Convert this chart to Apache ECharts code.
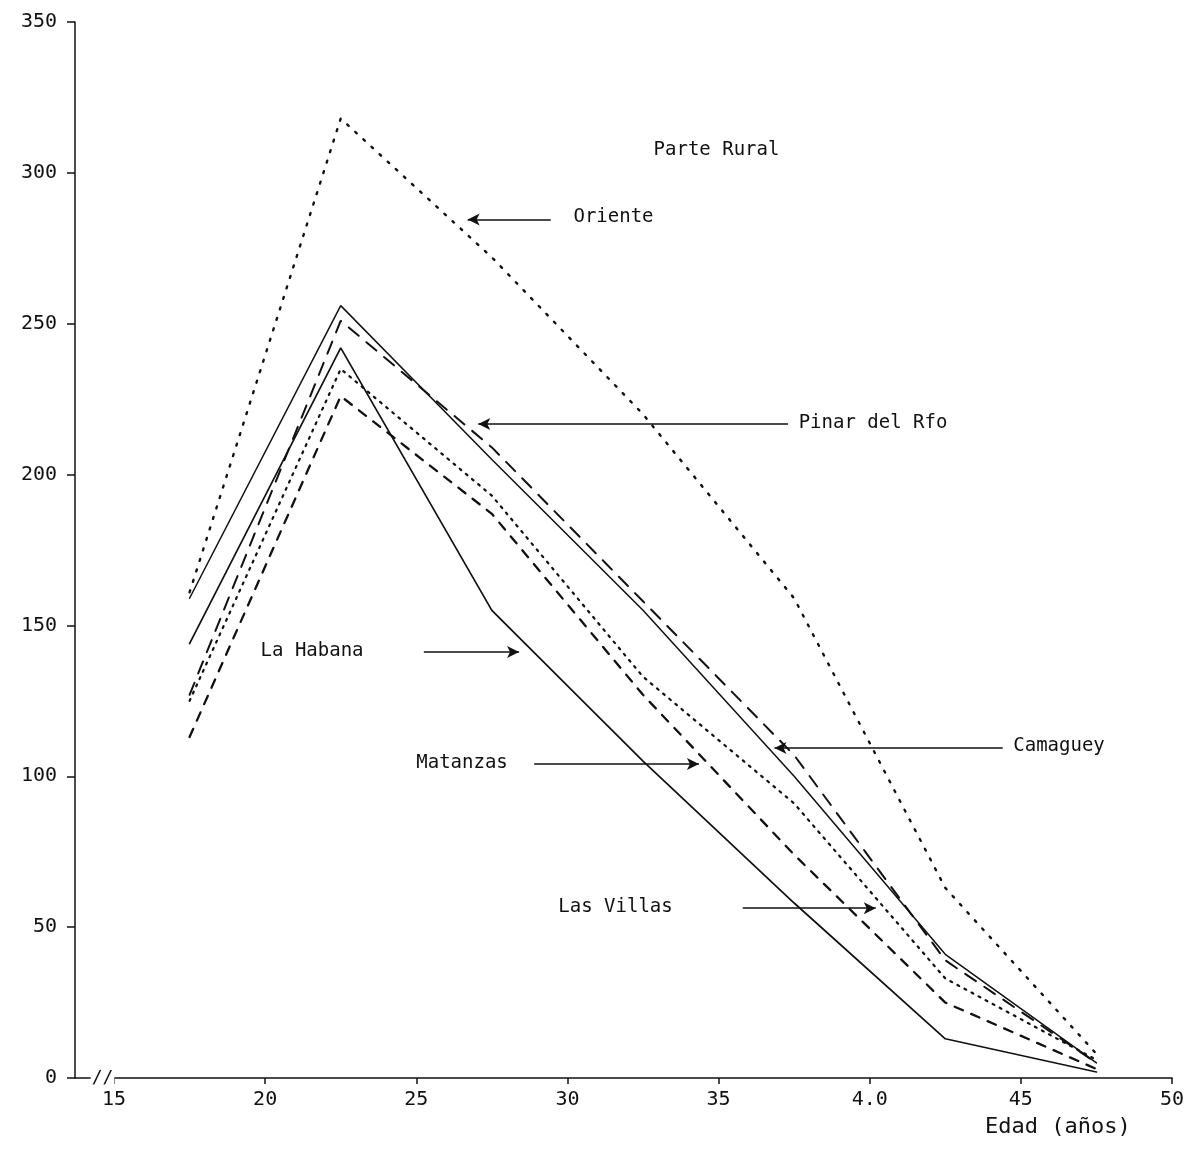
<!DOCTYPE html>
<html>
<head>
<meta charset="utf-8">
<script src="https://cdn.jsdelivr.net/npm/echarts@6/dist/echarts.min.js"></script>
<style>
  html, body { margin: 0; background: #fff; }
  #chart { width: 1196px; height: 1150px; }
</style>
</head>
<body>
<div id="chart"></div>
<script>
// Edad (años): punto medio de cada grupo quinquenal
const edades = [17.5, 22.5, 27.5, 32.5, 37.5, 42.5, 47.5];

// Parte rural, una serie por provincia
const pinarDelRio = [127, 251, 209, 158, 107, 39, 5];
const laHabana    = [144, 242, 155, 105, 58, 13, 2];
const matanzas    = [113, 226, 187, 127, 74, 25, 3];
const lasVillas   = [125, 235, 193, 133, 91, 33, 6];
const camaguey    = [159, 256, 205, 155, 100, 41, 5];
const oriente     = [161, 318, 272, 220, 159, 63, 8];

const xTicks = [15, 20, 25, 30, 35, 40, 45, 50];
const xTickLabels = ["15", "20", "25", "30", "35", "4.0", "45", "50"];

const INK = "#111";
const FONT = "DejaVu Sans Mono";

const pairs = (ys) => edades.map((x, i) => [x, ys[i]]);

// trazo de cada provincia (como en la copia mecanografiada)
const provincias = [
  { name: "Oriente",       data: oriente,     type: [2, 9],  width: 2.4 },
  { name: "Camaguey",      data: camaguey,    type: "solid", width: 1.5 },
  { name: "Pinar del Rfo", data: pinarDelRio, type: [13, 10], width: 2 },
  { name: "La Habana",     data: laHabana,    type: "solid", width: 1.7 },
  { name: "Las Villas",    data: lasVillas,   type: [2, 6],  width: 2.2 },
  { name: "Matanzas",      data: matanzas,    type: [9, 9],  width: 2.3 }
];

// rótulos con flecha (coordenadas en unidades de los ejes)
const notas = [
  { texto: "Parte Rural",   tx: 32.85, ty: 307.5 },
  { texto: "Oriente",       tx: 30.2,  ty: 285.5, y: 284.5, desde: 29.45, hasta: 26.7 },
  { texto: "Pinar del Rfo", tx: 37.65, ty: 217,   y: 216.8, desde: 37.3,  hasta: 27.05 },
  { texto: "La Habana",     tx: 19.85, ty: 141.5, y: 141.2, desde: 25.25, hasta: 28.4 },
  { texto: "Matanzas",      tx: 25.0,  ty: 104.5, y: 104.1, desde: 28.9,  hasta: 34.35 },
  { texto: "Camaguey",      tx: 44.75, ty: 110,   y: 109.4, desde: 44.4,  hasta: 36.85 },
  { texto: "Las Villas",    tx: 29.7,  ty: 56.5,  y: 56.3,  desde: 35.8,  hasta: 40.2 }
];

const chart = echarts.init(document.getElementById("chart"), null, { renderer: "canvas" });

const lineSeries = provincias.map((p) => ({
  name: p.name,
  type: "line",
  data: pairs(p.data),
  symbol: "none",
  smooth: false,
  lineStyle: { color: INK, width: p.width, type: p.type, cap: "round" },
  z: 3
}));

const noteSeries = {
  type: "scatter",
  data: notas.map((n) => ({ value: [n.tx, n.ty], name: n.texto })),
  symbolSize: 0,
  silent: true,
  itemStyle: { opacity: 1 },
  label: {
    show: true,
    position: "right",
    distance: 0,
    formatter: (p) => p.name,
    color: INK,
    fontFamily: FONT,
    fontSize: 19,
    opacity: 1
  },
  markLine: {
    silent: true,
    symbol: ["none", "arrow"],
    symbolSize: [9, 12],
    label: { show: false },
    lineStyle: { color: INK, width: 1.5, type: "solid", opacity: 1 },
    data: notas.filter((n) => n.desde !== undefined).map((n) => [
      { coord: [n.desde, n.y] },
      { coord: [n.hasta, n.y] }
    ])
  },
  z: 4
};

// corte del eje x entre 0 y 15
const breakSeries = {
  type: "scatter",
  data: [{ value: [14.62, 0], name: "//" }],
  symbolSize: 0,
  silent: true,
  clip: false,
  itemStyle: { opacity: 1 },
  label: {
    show: true,
    position: "inside",
    formatter: "//",
    color: INK,
    fontFamily: FONT,
    fontSize: 18,
    backgroundColor: "#fff",
    padding: [0, 1]
  },
  z: 5
};

chart.setOption({
  animation: false,
  backgroundColor: "#fff",
  grid: { left: 75, right: 24, top: 22, bottom: 72, containLabel: false },
  xAxis: {
    type: "value",
    min: 13.71,
    max: 50,
    splitLine: { show: false },
    axisLine: { show: true, onZero: false, lineStyle: { color: INK, width: 1.5 } },
    axisTick: {
      show: true,
      length: 6,
      inside: false,
      customValues: xTicks,
      lineStyle: { color: INK, width: 1.5 }
    },
    axisLabel: {
      customValues: xTicks,
      formatter: (v) => xTickLabels[xTicks.indexOf(v)] || "",
      color: INK,
      fontFamily: FONT,
      fontSize: 20,
      margin: 12
    }
  },
  yAxis: {
    type: "value",
    min: 0,
    max: 350,
    interval: 50,
    splitLine: { show: false },
    axisLine: { show: true, lineStyle: { color: INK, width: 1.5 } },
    axisTick: { show: true, length: 8, lineStyle: { color: INK, width: 1.5 } },
    axisLabel: { color: INK, fontFamily: FONT, fontSize: 20, margin: 18 }
  },
  graphic: [
    {
      type: "text",
      left: 985,
      top: 1116,
      style: { text: "Edad (años)", fill: INK, font: "22px 'DejaVu Sans Mono'" }
    }
  ],
  series: [...lineSeries, noteSeries, breakSeries]
});
</script>
</body>
</html>
